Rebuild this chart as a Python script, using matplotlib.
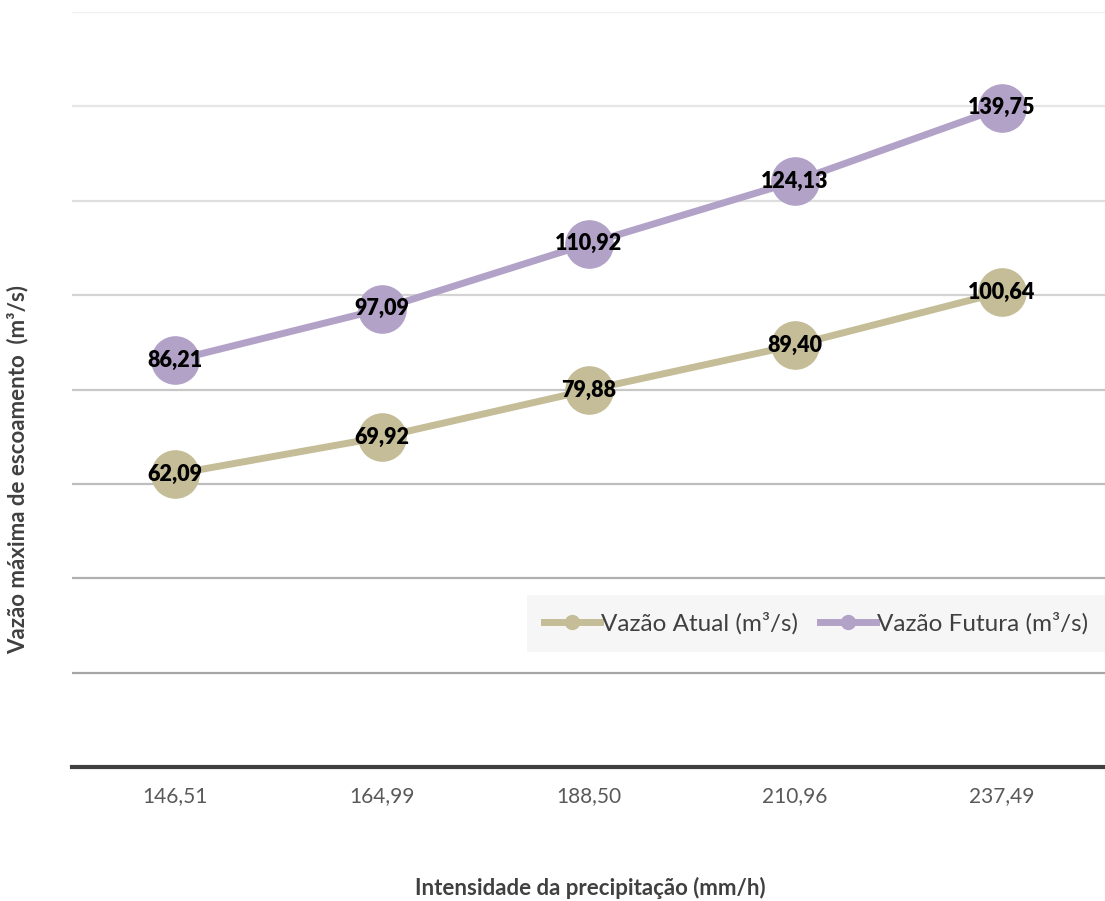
import matplotlib
matplotlib.use("Agg")
import matplotlib.pyplot as plt
from matplotlib.lines import Line2D

# data
categorias = ["146,51", "164,99", "188,50", "210,96", "237,49"]
vazao_atual = [62.09, 69.92, 79.88, 89.40, 100.64]
vazao_futura = [86.21, 97.09, 110.92, 124.13, 139.75]
nome_atual = "Vazão Atual (m³/s)"
nome_futura = "Vazão Futura (m³/s)"

cor_atual = "#c4bd97"
cor_futura = "#b3a2c7"
fonte = ["Lato", "DejaVu Sans"]
plt.rcParams["font.family"] = fonte

fig = plt.figure(figsize=(11.05, 9.01), dpi=100)
ax = fig.add_axes([72 / 1105, 1 - 767 / 901, 1 - 72 / 1105, (767 - 12) / 901])

x = list(range(len(categorias)))

# gridlines: lighter at top, darker at bottom
grid_y = [20, 40, 60, 80, 100, 120, 140, 160]
grid_cor = ["#a6a6a6", "#b0b0b0", "#bdbdbd", "#c8c8c8", "#d4d4d4", "#dedede", "#e6e6e6", "#efefef"]
for gy, gc in zip(grid_y, grid_cor):
    ax.axhline(gy, color=gc, lw=1.6, zorder=0)

for serie, cor in [(vazao_atual, cor_atual), (vazao_futura, cor_futura)]:
    ax.plot(x, serie, color=cor, lw=5, marker="o", markersize=34, zorder=2)
    for xi, v in zip(x, serie):
        ax.text(xi, v, f"{v:.2f}".replace(".", ","), ha="center", va="center",
                fontsize=15.5, fontweight="heavy", color="black", zorder=3)

ax.set_xlim(-0.5, 4.5)
ax.set_ylim(0, 160)
ax.set_xticks(x)
ax.set_xticklabels(categorias, fontsize=15, color="#595959")
ax.set_yticks([])
ax.tick_params(axis="x", length=0, pad=14)
for s in ["top", "right", "left"]:
    ax.spines[s].set_visible(False)
ax.spines["bottom"].set_color("#404040")
ax.spines["bottom"].set_linewidth(3)

handles = [Line2D([], [], color=cor_atual, lw=5, marker="o", markersize=10),
           Line2D([], [], color=cor_futura, lw=5, marker="o", markersize=10)]
leg = ax.legend(handles, [nome_atual, nome_futura], loc="center right",
                bbox_to_anchor=(1.0, 0.19), ncol=2, frameon=True, fancybox=False,
                facecolor="#f6f6f6", edgecolor="none", framealpha=1,
                fontsize=17.5, handlelength=2.3, handletextpad=0.05,
                columnspacing=0.9, borderpad=0.7, borderaxespad=0)
for t in leg.get_texts():
    t.set_color("#404040")

fig.text(18 / 1105, 1 - 470 / 901, "Vazão máxima de escoamento  (m³/s)", rotation=90,
         ha="center", va="center", fontsize=16, fontweight="bold", color="#404040")
fig.text(590 / 1105, 1 - 888 / 901, "Intensidade da precipitação (mm/h)",
         ha="center", va="center", fontsize=16, fontweight="bold", color="#404040")

fig.savefig("out.png", dpi=100)
